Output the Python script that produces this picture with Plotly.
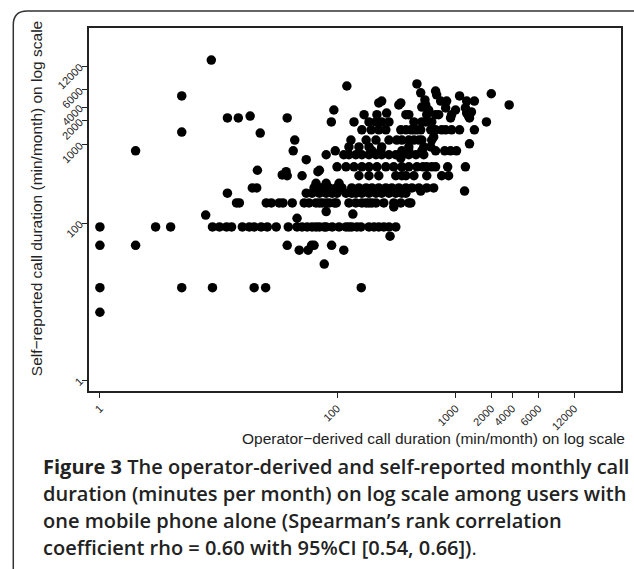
import plotly.graph_objects as go

# ---- data: operator-derived (x) and self-reported (y) monthly call minutes ----
# grouped by self-reported level
self_levels = [7.3, 15, 30, 45, 52, 68, 89, 115, 126, 130, 140, 160, 180, 240, 280, 255, 320,
               400, 410, 450, 470, 520, 640, 670, 740, 830, 930, 1140, 1250, 1020, 1400, 1440,
               1540, 1940, 2180, 2300, 2400, 2510, 2600, 2750, 2920, 3000, 3190, 3380, 3580,
               3700, 4160, 4300, 4430, 4550, 4800, 5560, 5900, 11900]
operator_rows = [
    [1],
    [1, 4.9, 8.9, 20, 25, 160],
    [78],
    [48, 57, 114],
    [1, 2, 38, 61, 64, 90],
    [280],
    [1, 2.95, 3.95, 8.9, 10.2, 11.7, 12.9, 15.9, 18.2, 20, 22.9, 25.8, 30.7, 38.8, 46, 50.7, 56,
     61.6, 66.5, 71, 78, 81, 91, 104, 119, 126, 133, 147, 159, 186, 205, 225, 248, 274, 313],
    [46],
    [7.8],
    [136],
    [81],
    [301],
    [14.2, 15, 25.3, 27.9, 32.5, 35, 41.9, 52.8, 58, 66.5, 71, 75, 81, 86, 95, 98.5, 126, 144,
     162, 176, 186, 197, 213, 248, 301, 345, 403, 419],
    [11.9, 55, 61.6, 71, 81, 91, 100, 119, 133, 144, 162, 186, 213, 238, 274, 313, 352, 381],
    [19.3, 21, 64, 73.6, 86, 98.5, 110, 133, 153, 176, 197, 225, 258, 290, 332, 381, 428, 490,
     571, 653],
    [508, 1190],
    [66.5, 81, 104],
    [38, 50.7, 153, 186, 225, 313, 352, 381, 445, 571, 763, 873],
    [34.5],
    [37.2, 69],
    [21.3, 71],
    [100, 119, 139, 162, 186, 217, 258, 301, 352, 403, 472, 530, 571, 629, 678, 857, 1210],
    [55],
    [345],
    [81, 114, 126, 144, 162, 186, 213, 238, 274, 313, 352, 403, 463, 539],
    [2, 42.7, 96.6, 197, 234, 352, 403, 519, 678, 809, 907, 1018],
    [126, 153, 186, 238, 403, 539, 617],
    [44, 131, 176, 213, 274, 319, 352, 403, 445, 490, 519, 629],
    [653],
    [1310],
    [22.5],
    [4.9],
    [162, 194, 225, 258, 345, 381, 419, 445, 472, 508, 617, 678, 763, 824, 925, 1080, 1440],
    [89.5, 139, 186, 213, 238, 274, 445, 519, 560, 629, 1820],
    [11.9, 14.7, 38, 907, 1310],
    [18.5, 1285],
    [169, 217, 381, 403, 571, 678, 720, 925],
    [262, 1240],
    [1360],
    [94, 593, 999],
    [824, 1210],
    [519],
    [332, 560, 2830],
    [225, 345],
    [238, 748, 840, 1240, 1440],
    [551],
    [4.9, 1080],
    [692],
    [2000],
    [508],
    [678],
    [121],
    [472],
    [8.7],
]

tick_vals = [1, 100, 1000, 2000, 3000, 5000, 10000]
tick_text = ["1", "100", "1000", "2000", "4000", "6000", "12000"]

x_title = "Operator\u2212derived call duration (min/month) on log scale"
y_title = "Self\u2212reported call duration (min/month) on log scale"
caption_lines = [
    "<b>Figure 3</b> The operator-derived and self-reported monthly call",
    "duration (minutes per month) on log scale among users with",
    "one mobile phone alone (Spearman\u2019s rank correlation",
    "coefficient rho = 0.60 with 95%CI [0.54, 0.66])",
]

# ---- build flat arrays ----
operator_min = []
self_min = []
for lvl, row in zip(self_levels, operator_rows):
    for v in row:
        operator_min.append(v)
        self_min.append(lvl)

W, H = 634, 569
L, R, T, B = 89, 623, 28, 391


def fx(px):
    return (px - L) / (R - L)


def fy(py):
    return (B - py) / (B - T)


fig = go.Figure()
fig.add_trace(go.Scatter(
    x=operator_min, y=self_min, mode="markers",
    marker=dict(color="black", size=9.5, line=dict(width=0)),
    showlegend=False, hoverinfo="x+y",
))

axis_common = dict(
    type="log", showgrid=False, zeroline=False, ticks="outside", ticklen=5,
    tickwidth=1, tickcolor="#222", showline=True, linecolor="#222", linewidth=1.5,
    mirror=True, tickangle=-45, tickvals=tick_vals, ticktext=tick_text,
    tickfont=dict(family="Liberation Sans, Arial", size=11, color="#222"),
)
fig.update_xaxes(range=[-0.092, 4.395], **axis_common)
fig.update_yaxes(range=[-0.14, 4.484], **axis_common)

annotations = [
    dict(text=x_title, x=fx(629), y=fy(438), xref="paper", yref="paper",
         xanchor="right", yanchor="middle", showarrow=False,
         font=dict(family="Liberation Sans, Arial", size=15.5, color="#222")),
    dict(text=y_title, x=fx(36), y=fy(199), xref="paper", yref="paper",
         xanchor="center", yanchor="middle", textangle=-90, showarrow=False,
         font=dict(family="Liberation Sans, Arial", size=15.5, color="#222")),
]
line_y = [466, 493, 520, 547]
for i, (txt, yy) in enumerate(zip(caption_lines, line_y)):
    if i == len(caption_lines) - 1:
        txt = txt + "<span style='font-weight:normal'>.</span>"
    annotations.append(dict(
        text=txt, x=fx(41), y=fy(yy), xref="paper", yref="paper",
        xanchor="left", yanchor="middle", showarrow=False, align="left",
        font=dict(family="Open Sans, Noto Sans", size=20, color="#222", weight=600),
    ))

# outer rounded frame (top-left corner)
r = 14
path = (f"M {fx(13)},{fy(569)} L {fx(13)},{fy(11 + r)} "
        f"Q {fx(13)},{fy(11)} {fx(13 + r)},{fy(11)} L {fx(640)},{fy(11)}")

fig.update_layout(
    width=W, height=H, autosize=False,
    margin=dict(l=L, r=W - R, t=T, b=H - B, pad=0),
    plot_bgcolor="white", paper_bgcolor="white",
    annotations=annotations,
    shapes=[dict(type="path", path=path, xref="paper", yref="paper",
                 line=dict(color="#333", width=1.5), layer="above")],
)

fig.write_html(
    "out.html",
    config={"displayModeBar": False},
    post_script="document.body.style.margin='0px';document.body.style.overflow='hidden';",
)
